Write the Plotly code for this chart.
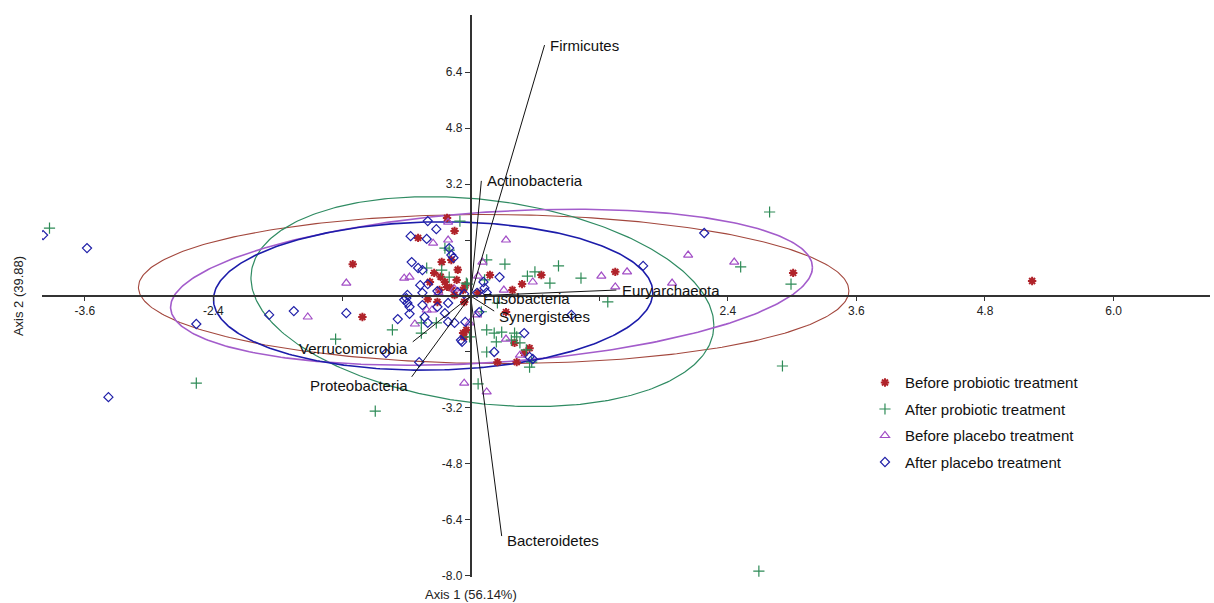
import numpy as np
import plotly.graph_objects as go

# ---------------- data ----------------
group_names = ["Before probiotic treatment", "After probiotic treatment",
               "Before placebo treatment", "After placebo treatment"]

before_probiotic_x = [5.24, 3.01, 1.35, 0.66, 0.18, 0.48, 0.39, 0.07, -0.22, -0.15, -0.49, -0.34, -0.27,
                      -0.18, -0.24, -0.22, -0.13, -0.18, -0.40, -1.10, -1.01, -0.31, -0.07, -0.06, 0.41,
                      0.50, 0.25, 0.43, 0.55, -0.04, -0.38, -0.07, 0.33, -0.06, -0.29, -0.15, -0.12, -0.28, -0.05]
before_probiotic_y = [0.43, 0.66, 0.69, 0.60, 0.60, 0.34, 0.17, 0.09, 2.23, 1.86, 1.66, 0.66, 0.97,
                      1.03, 0.40, 0.26, 0.46, 0.23, -0.09, 0.91, -0.60, -0.17, -1.06, -1.17, -1.34,
                      -1.63, -1.89, -1.89, -1.49, -0.97, 0.40, 0.17, -0.46, -0.17, 0.17, 0.03, 0.75, 0.55, 0.30]

after_probiotic_x = [-3.93, 2.79, 2.52, 2.99, 2.91, 2.69, -2.56, -0.89, -1.26, -0.73, 0.07, 0.82, 0.74,
                     1.03, 1.28, 0.32, 0.60, 0.53, 0.15, 0.22, 0.29, 0.41, 0.24, 0.38, 0.15, 0.52, 0.57,
                     0.55, -0.01, -0.46, -0.10, -0.27, -0.24, -0.20, -0.41, -0.20, -0.04, 0.15, -0.03,
                     0.13, 0.43, 0.46, -0.46, -0.32, 0.25, 0.10]
after_probiotic_y = [1.94, 2.40, 0.83, 0.34, -2.00, -7.86, -2.49, -3.29, -1.23, -0.97, -2.51, 0.86, 0.37,
                     0.51, -0.17, 0.91, 0.69, 0.57, -0.97, -1.06, -1.03, -1.06, -1.31, -1.26, -1.60, -1.54,
                     -1.89, -2.03, -1.17, -1.06, 2.14, 0.74, 1.37, 1.31, 0.80, 0.54, 0.37, 1.03, 0.34,
                     0.46, -1.17, -1.34, -0.77, -0.77, -0.20, -0.45]

before_placebo_x = [2.03, 2.46, 1.22, 1.46, 1.35, 1.88, 0.33, 0.11, 0.07, 0.58, 0.31, -0.21, -0.35, -0.21,
                    -0.62, -0.57, -1.16, -1.52, -0.52, -0.41, -0.36, -0.06, 0.15, 0.33, 0.46, 0.06, -0.01,
                    -0.15, -0.30]
before_placebo_y = [1.17, 0.97, 0.57, 0.69, 0.26, 0.37, 1.60, 0.97, 0.57, 0.40, 0.17, 2.11, 1.51, 1.60,
                    0.51, 0.54, 0.37, -0.60, -0.80, -0.40, -0.40, -2.49, -2.74, -1.23, -1.69, -0.54, -0.77,
                    0.20, 0.10]

after_placebo_x = [-3.99, -3.58, -3.38, -2.56, -1.88, -1.65, -1.16, -0.79, -0.48, 2.18, 1.61, 0.94, 0.55,
                   0.58, 0.50, 0.22, -0.09, -0.40, -0.32, -0.56, -0.41, -0.55, -0.49, -0.45, -0.18, -0.16,
                   -0.47, -0.40, -0.31, -0.45, -0.59, -0.12, -0.06, -0.60, -0.59, -0.62, -0.57, -0.45,
                   -0.31, -0.21, -0.57, -0.68, -0.43, -0.24, -0.21, -0.15, -0.08, 0.27, 0.12, 0.13, 0.06,
                   -0.20, 0.08, 0.15, -0.05, -0.40]
after_placebo_y = [1.74, 1.37, -2.89, -0.80, -0.54, -0.43, -0.49, -1.63, -1.89, 1.80, 0.86, -0.54, -1.74,
                   -1.80, -1.06, -1.60, -1.26, 2.14, 1.91, 1.71, 1.63, 0.97, 0.80, 0.74, 1.17, 1.09,
                   0.31, 0.34, 0.14, 0.09, 0.03, 0.11, 0.06, -0.06, -0.20, -0.11, -0.31, -0.26,
                   -0.31, -0.20, -0.51, -0.66, -0.60, -0.49, -0.74, -0.77, -1.31, 0.54, 0.40, 0.23, 0.09,
                   1.37, -0.46, 0.10, -0.74, -0.77]

# confidence ellipses: centre x, centre y, half-width, half-height, y-offset of rightmost point
ellipse_cx = [0.215, 0.11, 0.195, -0.35]
ellipse_cy = [0.20, -0.16, 0.25, 0.0]
ellipse_halfw = [3.315, 2.16, 2.995, 2.05]
ellipse_halfh = [2.13, 3.0, 2.23, 2.12]
ellipse_dy = [-0.05, -0.68, 0.57, 0.10]

# loading vectors
phyla = ["Firmicutes", "Actinobacteria", "Euryarchaeota", "Fusobacteria", "Synergistetes",
         "Verrucomicrobia", "Proteobacteria", "Bacteroidetes"]
phyla_x = [0.69, 0.10, 1.36, 0.07, 0.22, -0.54, -0.55, 0.29]
phyla_y = [7.17, 3.29, 0.17, 0.01, -0.43, -1.31, -2.31, -6.86]

x_ticks = [-3.6, -2.4, -1.2, 1.2, 2.4, 3.6, 4.8, 6.0]
x_ticklabels = ["-3.6", "-2.4", "", "", "2.4", "3.6", "4.8", "6.0"]
y_ticks = [-8.0, -6.4, -4.8, -3.2, -1.6, 1.6, 3.2, 4.8, 6.4]
y_ticklabels = ["-8.0", "-6.4", "-4.8", "-3.2", "", "", "3.2", "4.8", "6.4"]

# ---------------- styles ----------------
FONT = "Liberation Sans, Arial, sans-serif"
group_colors = ["#b0232a", "#2e8b57", "#a24ec6", "#1f1fa8"]
group_symbols = ["asterisk", "cross-thin", "triangle-up-open", "diamond-open"]
group_sizes = [7, 8, 8, 7]
ellipse_colors = ["#a3473d", "#2f8b62", "#a35ccb", "#1c1caa"]
ellipse_widths = [1.1, 1.2, 1.6, 1.6]

fig = go.Figure()

# ellipses
t = np.linspace(0, 2 * np.pi, 361)
for cx, cy, hw, hh, dy, col, w in zip(ellipse_cx, ellipse_cy, ellipse_halfw, ellipse_halfh,
                                        ellipse_dy, ellipse_colors, ellipse_widths):
    ex = cx + hw * np.cos(t)
    ey = cy + dy * np.cos(t) + np.sqrt(hh ** 2 - dy ** 2) * np.sin(t)
    fig.add_trace(go.Scatter(x=ex, y=ey, mode="lines", line=dict(color=col, width=w),
                             showlegend=False, hoverinfo="skip"))

# points
all_x = [before_probiotic_x, after_probiotic_x, before_placebo_x, after_placebo_x]
all_y = [before_probiotic_y, after_probiotic_y, before_placebo_y, after_placebo_y]
for i, (name, xs, ys) in enumerate(zip(group_names, all_x, all_y)):
    col = group_colors[i]
    fig.add_trace(go.Scatter(
        x=xs, y=ys, mode="markers", name=name, legendgroup=f"g{i}",
        marker=dict(symbol=group_symbols[i], size=group_sizes[i], color=col,
                    line=dict(color=col, width=2.0 if i == 0 else 1.2)),
    ))

# loading lines
lx, ly = [], []
for px, py in zip(phyla_x, phyla_y):
    lx += [0, px, None]
    ly += [0, py, None]
fig.add_trace(go.Scatter(x=lx, y=ly, mode="lines", line=dict(color="#111111", width=1),
                         showlegend=False, hoverinfo="skip"))

label_cfg = {
    "Firmicutes": ("left", 3, 0),
    "Actinobacteria": ("left", 4, 0),
    "Euryarchaeota": ("left", 4, 0),
    "Fusobacteria": ("left", 3, -3),
    "Synergistetes": ("left", 3, -5),
    "Verrucomicrobia": ("right", -3, -7),
    "Proteobacteria": ("right", -2, -9),
    "Bacteroidetes": ("left", 3, -4),
}
for name, px, py in zip(phyla, phyla_x, phyla_y):
    anchor, xs, ys = label_cfg[name]
    fig.add_annotation(x=px, y=py, text=name, showarrow=False, xanchor=anchor, yanchor="middle",
                       xshift=xs, yshift=ys, font=dict(family=FONT, size=15, color="#111111"))

# axis titles
fig.add_annotation(xref="paper", yref="paper", x=0.3673, y=-0.032, text="Axis 1 (56.14%)",
                   showarrow=False, xanchor="center", yanchor="middle",
                   font=dict(family=FONT, size=13, color="#222222"))
fig.add_annotation(xref="paper", yref="paper", x=-0.0205, y=0.5, text="Axis 2 (39.88)",
                   showarrow=False, textangle=-90, xanchor="center", yanchor="middle",
                   font=dict(family=FONT, size=13, color="#222222"))

x_range = [-4.0, 6.9]
y_range = [-8.03, 8.03]
fig.update_layout(
    width=1214, height=603,
    margin=dict(l=42, r=4, t=15, b=26),
    paper_bgcolor="white", plot_bgcolor="white",
    font=dict(family=FONT, size=12, color="#222222"),
    xaxis=dict(range=x_range, showgrid=False, zeroline=False, showline=True, linecolor="#333333",
               linewidth=1.5, anchor="free", position=(0 - y_range[0]) / (y_range[1] - y_range[0]),
               ticks="outside", ticklen=4, tickcolor="#333333", tickvals=x_ticks, ticktext=x_ticklabels,
               tickfont=dict(size=12)),
    yaxis=dict(range=y_range, showgrid=False, zeroline=False, showline=True, linecolor="#333333",
               linewidth=1.5, anchor="free", position=(0 - x_range[0]) / (x_range[1] - x_range[0]),
               ticks="outside", ticklen=5, tickcolor="#333333", tickvals=y_ticks, ticktext=y_ticklabels,
               tickfont=dict(size=12)),
    legend=dict(x=0.7046, y=0.375, xanchor="left", yanchor="top", traceorder="grouped",
                tracegroupgap=4, bgcolor="rgba(0,0,0,0)", font=dict(family=FONT, size=15, color="#111111")),
    showlegend=True,
)

fig.write_html("out.html", config={"displayModeBar": False},
               post_script="document.body.style.margin='0';document.body.style.overflow='hidden';")
